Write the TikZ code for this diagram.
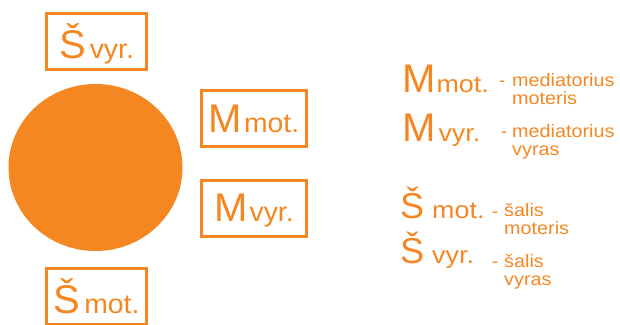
\documentclass[tikz,border=0pt]{standalone}
\usepackage{fontspec}
\setmainfont{Liberation Sans}
\usepackage{graphicx}
\definecolor{orng}{RGB}{245,135,35}
\newcommand{\bigsym}[1]{{\fontsize{40}{40}\selectfont #1}}
\newcommand{\smsym}[1]{\scalebox{1.05}[1]{\fontsize{27}{27}\selectfont #1}}
\newcommand{\lgsym}[1]{\scalebox{1.12}[1]{\fontsize{24}{24}\selectfont #1}}
\newcommand{\dsc}{\fontsize{18}{18}\selectfont}
\newcommand{\dtxt}[2]{\scalebox{1.1}[1]{\dsc\begin{tabular}[t]{@{}l@{}}#1\\#2\end{tabular}}}

\begin{document}
\begin{tikzpicture}[x=1pt, y=-1pt,
    bx/.style={draw=orng, line width=3pt, minimum width=100pt, minimum height=56pt, inner sep=0pt, text depth=0pt, text=orng},
    bxw/.style={bx, minimum width=105pt},
    sym/.style={anchor=base west, inner sep=0pt, text=orng},
    dsh/.style={anchor=base west, inner sep=0pt, text=orng, font=\dsc},
    dtx/.style={anchor=base west, inner sep=0pt, text=orng}
]
\useasboundingbox (0,0) rectangle (620,324);

% circle
\fill[orng] (95.5,167.5) ellipse [x radius=87pt, y radius=83.5pt];

% boxes
\node[bx] (svyr) at (96.5,41.5) {\bigsym{Š}\hspace{4pt}\smsym{vyr.}};
\node[bxw] (mmot) at (254,118.5) {\bigsym{M}\hspace{2pt}\smsym{mot.}};
\node[bxw] (mvyr) at (254,208) {\bigsym{M}\hspace{2pt}\smsym{vyr.}};
\node[bx] (smot) at (96.5,296.5) {\bigsym{Š}\hspace{4pt}\smsym{mot.}};

% legend
\node[sym] (lmmot) at (402,92) {\bigsym{M}\hspace{1pt}\lgsym{mot.}};
\node[dsh] (dmmot) at (499,86) {-};
\node[dtx] (tmmot) at (512,86) {\dtxt{mediatorius}{moteris}};

\node[sym] (lmvyr) at (402,141) {\bigsym{M}\hspace{3pt}\lgsym{vyr.}};
\node[dsh] (dmvyr) at (501,137) {-};
\node[dtx] (tmvyr) at (512,137) {\dtxt{mediatorius}{vyras}};

\node[sym] (lsmot) at (400,218) {{\fontsize{36}{36}\selectfont Š}\hspace{8pt}\lgsym{mot.}};
\node[dsh] (dsmot) at (492,217) {-};
\node[dtx] (tsmot) at (504,216) {\dtxt{šalis}{moteris}};

\node[sym] (lsvyr) at (400,263) {{\fontsize{36}{36}\selectfont Š}\hspace{8pt}\lgsym{vyr.}};
\node[dsh] (dsvyr) at (492,267) {-};
\node[dtx] (tsvyr) at (504,267) {\dtxt{šalis}{vyras}};
\end{tikzpicture}
\end{document}
